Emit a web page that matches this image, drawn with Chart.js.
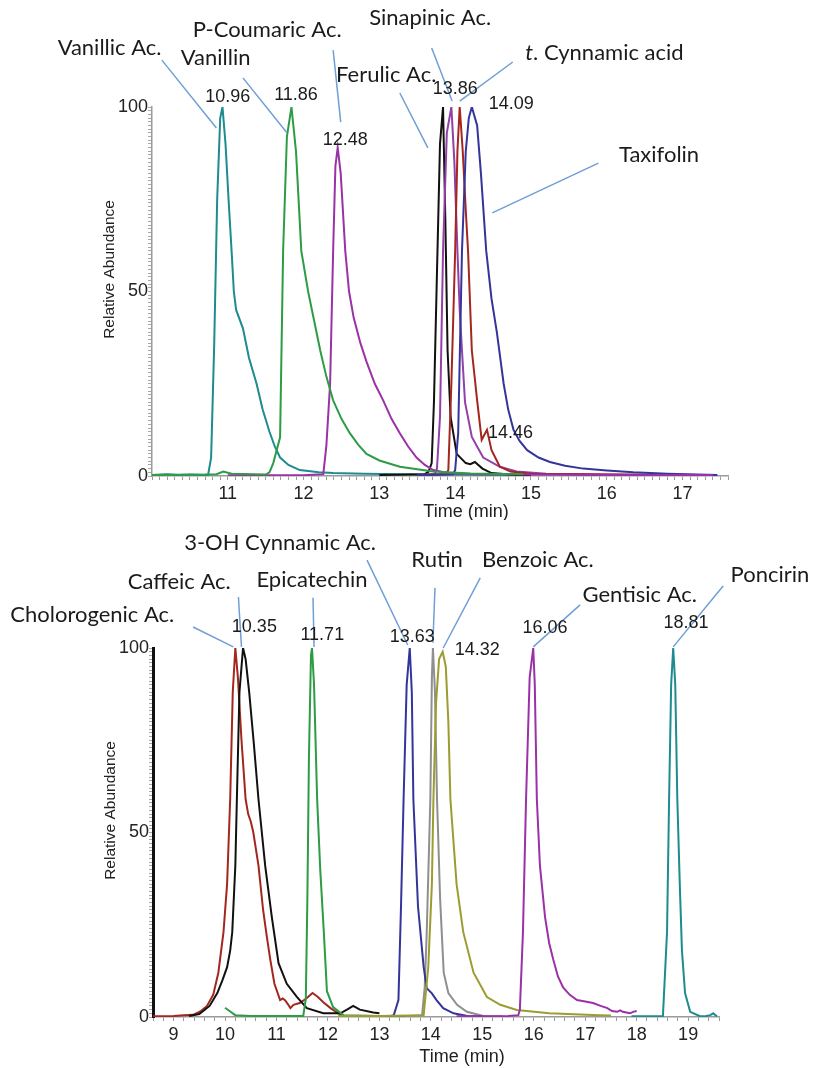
<!DOCTYPE html>
<html>
<head>
<meta charset="utf-8">
<script src="https://cdn.jsdelivr.net/npm/chart.js@4.4.1/dist/chart.umd.min.js"></script>
<style>
  body { margin: 0; background: #fff; }
  canvas { position: absolute; left: 0; }
</style>
</head>
<body>
<canvas id="chartTop" width="813" height="520" style="top:0"></canvas>
<canvas id="chartBottom" width="813" height="548" style="top:520px"></canvas>
<script>
// ===== top chromatogram (retention time in min / relative abundance in %) =====
const vanillicTime  = [10.0, 10.2, 10.35, 10.5, 10.74, 10.78, 10.82, 10.86, 10.9, 10.93, 10.97, 11.01, 11.05, 11.08, 11.11, 11.2, 11.28, 11.38, 11.46, 11.55, 11.62, 11.69, 11.8, 11.95, 12.2, 12.39, 12.8, 13.3, 14.0, 14.9];
const vanillicAbund = [0.3, 0.5, 0.3, 0.4, 0.3, 5, 35, 75, 97, 100, 90, 75, 61, 50, 45, 40, 32, 25, 18, 12, 8, 5, 3, 1.6, 1, 0.8, 0.6, 0.5, 0.4, 0.3];

const vanillinTime  = [10.0, 10.7, 10.85, 10.94, 11.05, 11.5, 11.55, 11.6, 11.69, 11.73, 11.78, 11.84, 11.9, 11.97, 12.06, 12.14, 12.22, 12.3, 12.39, 12.5, 12.61, 12.72, 12.83, 13.0, 13.27, 13.71, 14.2, 14.9];
const vanillinAbund = [0.3, 0.4, 0.5, 1.2, 0.6, 0.4, 1, 3.5, 10.5, 61, 92, 100, 88, 61, 50, 42, 34, 27, 20.5, 15.5, 11.6, 8.5, 6, 4.2, 2.5, 1.2, 0.7, 0.5];

const coumaricTime  = [11.0, 12.0, 12.26, 12.3, 12.35, 12.39, 12.42, 12.45, 12.49, 12.55, 12.6, 12.66, 12.75, 12.83, 12.94, 13.05, 13.16, 13.27, 13.38, 13.49, 13.6, 13.71, 13.9, 14.3, 15.0, 16.0, 17.4];
const coumaricAbund = [0.2, 0.2, 0.5, 8, 25, 61, 84, 89, 82, 61, 50, 43, 36, 31, 25, 20.5, 15.5, 11.6, 8, 5, 3, 1.6, 0.8, 0.5, 0.4, 0.3, 0.3];

const ferulicTime  = [13.0, 13.6, 13.65, 13.69, 13.72, 13.76, 13.8, 13.84, 13.87, 13.9, 13.94, 14.02, 14.14, 14.2, 14.26, 14.36, 14.48, 14.8, 15.0];
const ferulicAbund = [0.3, 0.5, 1.2, 3.5, 20, 55, 90, 100, 70, 34, 16, 6, 3.5, 3.2, 3.8, 2, 0.8, 0.3, 0.3];

const sinapinicTime  = [13.5, 13.73, 13.76, 13.8, 13.84, 13.89, 13.95, 13.99, 14.03, 14.06, 14.09, 14.13, 14.22, 14.37, 14.59, 14.81, 15.2, 16.0, 17.0];
const sinapinicAbund = [0.3, 0.5, 2, 16, 61, 93, 100, 85, 61, 45, 34, 20, 10.6, 5, 2.5, 1.2, 0.6, 0.4, 0.3];

const cinnamicTime  = [13.5, 13.88, 13.91, 13.95, 14.0, 14.03, 14.06, 14.1, 14.14, 14.17, 14.22, 14.29, 14.35, 14.42, 14.48, 14.59, 14.73, 15.0, 16.0, 17.0];
const cinnamicAbund = [0.3, 0.5, 1.6, 25, 61, 88, 100, 88, 72, 61, 34, 20.5, 9.8, 12.5, 7, 2.5, 1.2, 0.6, 0.4, 0.3];

const taxifolinTime  = [13.5, 13.97, 14.0, 14.04, 14.09, 14.14, 14.18, 14.22, 14.29, 14.34, 14.41, 14.48, 14.55, 14.64, 14.7, 14.77, 14.85, 14.95, 15.1, 15.25, 15.45, 15.69, 16.0, 16.35, 16.8, 17.2, 17.46];
const taxifolinAbund = [0.3, 0.5, 1.6, 11.6, 61, 88, 97, 100, 95, 82, 61, 48, 39, 25, 18, 12.5, 9.5, 7, 5, 3.8, 2.8, 2, 1.5, 1, 0.6, 0.4, 0.3];

const topCompounds  = ['Vanillic Ac.', 'Vanillin', 'P-Coumaric Ac.', 'Ferulic Ac.', 'Sinapinic Ac.', 't. Cynnamic acid', 'Taxifolin'];
const topPeakLabels = ['10.96', '11.86', '12.48', '13.86', '14.09', '14.46'];

// ===== bottom chromatogram =====
const chlorogenicTime  = [8.6, 9.0, 9.2, 9.38, 9.52, 9.65, 9.77, 9.87, 9.97, 10.04, 10.1, 10.15, 10.2, 10.25, 10.32, 10.4, 10.45, 10.5, 10.55, 10.65, 10.74, 10.81, 10.88, 10.96, 11.07, 11.12, 11.17, 11.22, 11.27, 11.33, 11.45, 11.58, 11.7, 11.8, 11.91, 12.05, 12.2, 12.3];
const chlorogenicAbund = [0.2, 0.3, 0.5, 0.6, 1.5, 3, 6, 12, 23, 36, 59, 88, 100, 92, 75, 59, 55, 53, 50, 41, 29, 22, 15.5, 9, 4.6, 5, 4.5, 3.5, 2.4, 3.3, 3.8, 5, 6.5, 5.5, 4, 2.4, 1, 0.5];

const caffeicTime  = [9.3, 9.5, 9.7, 9.85, 9.95, 10.04, 10.1, 10.14, 10.2, 10.23, 10.28, 10.35, 10.4, 10.47, 10.56, 10.65, 10.78, 10.91, 11.04, 11.2, 11.4, 11.59, 11.91, 12.24, 12.37, 12.49, 12.62, 12.88, 13.0];
const caffeicAbund = [0.3, 0.8, 3, 6.5, 10, 13.5, 18, 23, 41, 59, 88, 100, 97, 88, 74, 59, 41, 27, 14.6, 9, 5.4, 2.4, 1, 1, 2, 3, 2, 1.2, 1];

const epicatechinTime  = [10.0, 10.1, 10.2, 10.5, 11.0, 11.52, 11.57, 11.6, 11.63, 11.67, 11.69, 11.73, 11.79, 11.85, 11.92, 11.98, 12.1, 12.3, 13.0, 13.5];
const epicatechinAbund = [2.5, 1.5, 0.5, 0.3, 0.3, 0.3, 5, 32, 70, 98, 100, 90, 59, 40, 23, 7, 2.7, 0.5, 0.3, 0.2];

const ohCinnamicTime  = [13.2, 13.28, 13.37, 13.42, 13.47, 13.53, 13.59, 13.63, 13.66, 13.75, 13.86, 13.92, 14.02, 14.11, 14.24, 14.44, 14.71, 15.0];
const ohCinnamicAbund = [0.2, 0.5, 4.6, 30, 59, 90, 100, 88, 59, 30, 13.6, 7.8, 6.4, 4.6, 2.4, 1, 0.3, 0.2];

const rutinTime  = [13.5, 13.83, 13.88, 13.92, 13.99, 14.02, 14.04, 14.08, 14.12, 14.18, 14.25, 14.34, 14.51, 14.7, 15.02, 15.4];
const rutinAbund = [0.2, 0.5, 8, 23, 59, 92, 100, 88, 59, 32, 12, 6.5, 3.3, 1.4, 0.3, 0.2];

const benzoicTime  = [12.2, 13.0, 13.86, 13.95, 14.02, 14.05, 14.1, 14.16, 14.23, 14.29, 14.34, 14.38, 14.5, 14.63, 14.83, 15.09, 15.35, 15.67, 16.3, 17.27, 17.5];
const benzoicAbund = [0.3, 0.3, 0.5, 13.6, 36, 59, 85, 97, 99, 95, 80, 59, 36, 23, 12, 5.4, 3.3, 1.9, 1, 0.5, 0.4];

const gentisicTime  = [14.5, 15.5, 15.7, 15.73, 15.79, 15.85, 15.92, 15.99, 16.02, 16.06, 16.12, 16.22, 16.3, 16.38, 16.47, 16.57, 16.7, 16.84, 17.0, 17.15, 17.3, 17.43, 17.52, 17.62, 17.68, 17.73, 17.8, 17.87, 17.93, 18.0];
const gentisicAbund = [0.2, 0.3, 0.5, 2, 23, 59, 92, 100, 90, 59, 41, 27, 20, 15.5, 11, 8, 6, 4.6, 4.2, 3.8, 3, 2.4, 1.6, 1.4, 1.8, 1.4, 1.2, 1, 1.4, 1.6];

const poncirinTime  = [17.9, 18.51, 18.59, 18.63, 18.67, 18.71, 18.75, 18.79, 18.84, 18.88, 18.94, 19.04, 19.23, 19.35, 19.43, 19.49, 19.53, 19.56];
const poncirinAbund = [0.2, 0.2, 23, 59, 90, 100, 90, 59, 35, 18, 6.5, 1.4, 0.2, 0.3, 0.5, 1, 0.5, 0.2];

const bottomCompounds  = ['Cholorogenic Ac.', 'Caffeic Ac.', 'Epicatechin', '3-OH Cynnamic Ac.', 'Rutin', 'Benzoic Ac.', 'Gentisic Ac.', 'Poncirin'];
const bottomPeakLabels = ['10.35', '11.71', '13.63', '14.32', '16.06', '18.81'];

// ===== annotation layout, in axis units (time, abundance) =====
const topNamePos   = [[9.44, 116.0], [10.84, 113.3], [11.52, 120.9], [13.09, 108.7], [13.67, 124.1], [15.97, 114.6], [16.69, 87.0]];
const topLeaders   = [[10.13, 112.7, 10.85, 94.3], [11.2, 107.9, 11.78, 93.0], [12.39, 115.4, 12.49, 95.9], [13.27, 103.8, 13.64, 88.9],
                      [13.69, 116.0, 13.96, 101.6], [14.76, 112.2, 14.06, 101.6], [15.89, 84.8, 14.49, 71.3]];
const topPeakPos   = [[11.0, 102.7], [11.9, 103.3], [12.55, 91.1], [14.0, 104.9], [14.74, 100.8], [14.73, 11.7]];

const bottomNamePos = [[7.42, 108.9], [9.11, 117.9], [11.69, 118.4], [11.07, 128.5], [14.12, 123.8], [16.08, 123.8], [18.06, 114.4], [20.59, 119.8]];
const bottomLeaders = [[9.38, 105.7, 10.16, 100.3], [10.26, 113.8, 10.32, 100.3], [11.71, 113.6, 11.73, 100.3], [12.76, 123.8, 13.55, 100.8],
                       [14.08, 116.3, 14.04, 101.4], [14.96, 119.0, 14.24, 100.0], [16.9, 111.7, 15.99, 100.3], [19.68, 116.8, 18.71, 100.3]];
const bottomPeakPos = [[10.57, 105.7], [11.89, 103.5], [13.64, 103.0], [14.9, 99.5], [16.22, 105.4], [18.96, 106.8]];

const TICK_FONT = '"Liberation Sans", Arial, sans-serif';
const NAME_FONT = 'Lato, "Open Sans", sans-serif';
const NAME_SIZE = '22px ';

function series(label, times, values, color) {
    return {
        label: label,
        data: times.map((t, i) => ({ x: t, y: values[i] })),
        borderColor: color,
        borderWidth: 2,
        pointRadius: 0,
        tension: 0,
        fill: false
    };
}

// draws compound names, leader lines, peak times and axis titles
const annotate = {
    id: 'annotate',
    afterDraw(chart, args, opts) {
        const ctx = chart.ctx;
        const xs = chart.scales.x;
        const ys = chart.scales.y;
        const area = chart.chartArea;
        ctx.save();

        ctx.strokeStyle = '#6f9fd6';
        ctx.lineWidth = 1.5;
        opts.leaders.forEach(l => {
            ctx.beginPath();
            ctx.moveTo(xs.getPixelForValue(l[0]), ys.getPixelForValue(l[1]));
            ctx.lineTo(xs.getPixelForValue(l[2]), ys.getPixelForValue(l[3]));
            ctx.stroke();
        });

        ctx.fillStyle = '#1b1b1b';
        ctx.textBaseline = 'middle';
        opts.names.forEach((name, i) => {
            const x = xs.getPixelForValue(opts.namePos[i][0]);
            const y = ys.getPixelForValue(opts.namePos[i][1]);
            if (name.startsWith('t. ')) {
                // italic "t" prefix
                ctx.font = 'italic ' + NAME_SIZE + NAME_FONT;
                const w1 = ctx.measureText('t').width;
                ctx.font = NAME_SIZE + NAME_FONT;
                const rest = name.slice(1);
                const w2 = ctx.measureText(rest).width;
                const x0 = x - (w1 + w2) / 2;
                ctx.textAlign = 'left';
                ctx.font = 'italic ' + NAME_SIZE + NAME_FONT;
                ctx.fillText('t', x0, y);
                ctx.font = NAME_SIZE + NAME_FONT;
                ctx.fillText(rest, x0 + w1, y);
            } else {
                ctx.font = NAME_SIZE + NAME_FONT;
                ctx.textAlign = 'center';
                ctx.fillText(name, x, y);
            }
        });

        ctx.font = '18px ' + TICK_FONT;
        ctx.textAlign = 'center';
        opts.peaks.forEach((txt, i) => {
            ctx.fillText(txt, xs.getPixelForValue(opts.peakPos[i][0]), ys.getPixelForValue(opts.peakPos[i][1]));
        });

        // axis titles
        ctx.fillStyle = '#222';
        ctx.font = '18px ' + TICK_FONT;
        ctx.fillText('Time (min)', (area.left + area.right) / 2 + 26, area.bottom + opts.titleGap);
        ctx.font = '15.5px ' + TICK_FONT;
        ctx.translate(area.left - 42, (area.top + area.bottom) / 2 - 22);
        ctx.rotate(-Math.PI / 2);
        ctx.fillText('Relative Abundance', 0, 0);
        ctx.restore();
    }
};

function makePanel(id, datasets, cfg) {
    const canvas = document.getElementById(id);
    const H = canvas.height;
    const W = canvas.width;
    return new Chart(canvas.getContext('2d'), {
        type: 'line',
        data: { datasets: datasets },
        plugins: [annotate],
        options: {
            responsive: false,
            animation: false,
            layout: { padding: { left: 0, right: W - cfg.area.right, top: cfg.area.top, bottom: 0 } },
            plugins: {
                legend: { display: false },
                tooltip: { enabled: false },
                annotate: cfg.notes
            },
            scales: {
                x: {
                    type: 'linear',
                    min: cfg.xMin,
                    max: cfg.xMax,
                    afterFit: s => { s.height = H - cfg.area.bottom; },
                    grid: { drawOnChartArea: false, tickLength: 4, color: '#9a9a9a' },
                    border: { color: '#9a9a9a', width: 1.5 },
                    ticks: {
                        stepSize: cfg.xStep,
                        autoSkip: false,
                        maxRotation: 0,
                        padding: 3,
                        color: '#222',
                        font: { family: TICK_FONT, size: 18 },
                        callback: v => (Math.abs(v - Math.round(v)) < 1e-6 && v > cfg.xMin + 0.05) ? String(Math.round(v)) : ''
                    }
                },
                y: {
                    min: 0,
                    max: 100,
                    afterFit: s => { s.width = cfg.area.left; },
                    grid: { drawOnChartArea: false, tickLength: 4, color: '#a8a8a8' },
                    border: { color: cfg.yBorder, width: cfg.yBorderWidth },
                    ticks: {
                        stepSize: 1,
                        autoSkip: false,
                        padding: 0,
                        color: '#222',
                        font: { family: TICK_FONT, size: 18 },
                        callback: v => (v % 50 === 0 ? String(v) : '')
                    }
                }
            }
        }
    });
}

makePanel('chartTop', [
    series('Vanillin', vanillinTime, vanillinAbund, '#2e9b45'),
    series('P-Coumaric Ac.', coumaricTime, coumaricAbund, '#9b31a6'),
    series('Taxifolin', taxifolinTime, taxifolinAbund, '#34359b'),
    series('t. Cynnamic acid', cinnamicTime, cinnamicAbund, '#a4271f'),
    series('Sinapinic Ac.', sinapinicTime, sinapinicAbund, '#9340a8'),
    series('Ferulic Ac.', ferulicTime, ferulicAbund, '#111111'),
    series('Vanillic Ac.', vanillicTime, vanillicAbund, '#1d8b8f')
], {
    xMin: 10.0, xMax: 17.6, xStep: 0.1,
    area: { left: 152, right: 728, top: 107, bottom: 476 },
    yBorder: '#9a9a9a', yBorderWidth: 1.5,
    notes: { names: topCompounds, namePos: topNamePos, leaders: topLeaders, peaks: topPeakLabels, peakPos: topPeakPos, titleGap: 36 }
});

makePanel('chartBottom', [
    series('Gentisic Ac.', gentisicTime, gentisicAbund, '#9b31a6'),
    series('Poncirin', poncirinTime, poncirinAbund, '#1d8b8f'),
    series('Benzoic Ac.', benzoicTime, benzoicAbund, '#9c9c30'),
    series('3-OH Cynnamic Ac.', ohCinnamicTime, ohCinnamicAbund, '#34359b'),
    series('Rutin', rutinTime, rutinAbund, '#8f8f8f'),
    series('Epicatechin', epicatechinTime, epicatechinAbund, '#2e9b45'),
    series('Caffeic Ac.', caffeicTime, caffeicAbund, '#111111'),
    series('Cholorogenic Ac.', chlorogenicTime, chlorogenicAbund, '#a4271f')
], {
    xMin: 8.6, xMax: 19.6, xStep: 0.2,
    area: { left: 153, right: 719, top: 128, bottom: 497 },
    yBorder: '#111111', yBorderWidth: 3,
    notes: { names: bottomCompounds, namePos: bottomNamePos, leaders: bottomLeaders, peaks: bottomPeakLabels, peakPos: bottomPeakPos, titleGap: 40 }
});
</script>
</body>
</html>
